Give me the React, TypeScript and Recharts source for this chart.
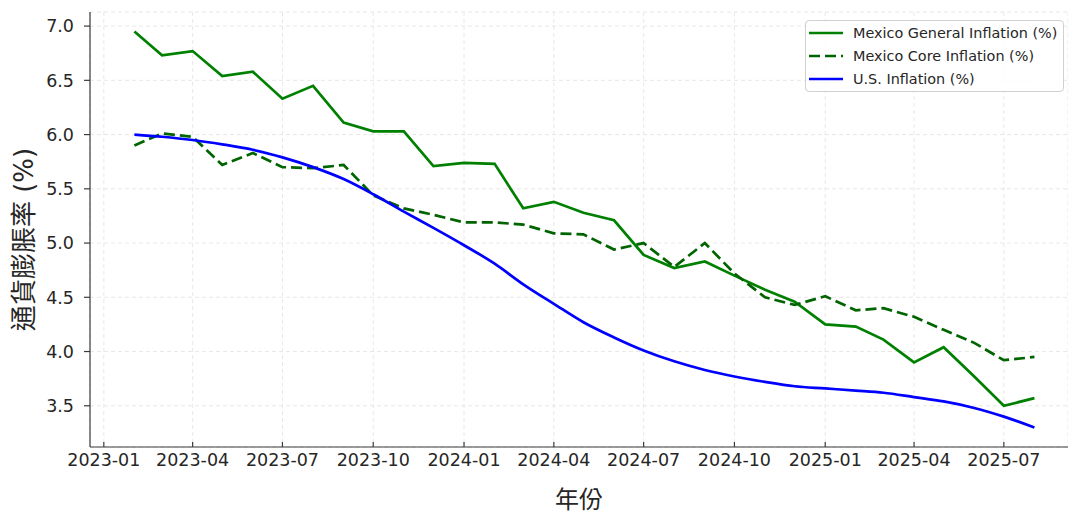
import { LineChart, Line, XAxis, YAxis, CartesianGrid, Text } from "recharts";

const MONTHS = [
  "2023-02", "2023-03", "2023-04", "2023-05", "2023-06", "2023-07", "2023-08", "2023-09", "2023-10", "2023-11", "2023-12",
  "2024-01", "2024-02", "2024-03", "2024-04", "2024-05", "2024-06", "2024-07", "2024-08", "2024-09", "2024-10", "2024-11", "2024-12",
  "2025-01", "2025-02", "2025-03", "2025-04", "2025-05", "2025-06", "2025-07", "2025-08",
];

const MX_GENERAL = [
  6.95, 6.73, 6.77, 6.54, 6.58, 6.33, 6.45, 6.11, 6.03, 6.03, 5.71,
  5.74, 5.73, 5.32, 5.38, 5.28, 5.21, 4.89, 4.77, 4.83, 4.7, 4.57, 4.46,
  4.25, 4.23, 4.11, 3.9, 4.04, 3.77, 3.5, 3.57,
];

const MX_CORE = [
  5.9, 6.01, 5.98, 5.72, 5.83, 5.7, 5.69, 5.72, 5.44, 5.32, 5.26,
  5.19, 5.19, 5.17, 5.09, 5.08, 4.94, 5.0, 4.78, 5.0, 4.72, 4.5, 4.43,
  4.51, 4.38, 4.4, 4.32, 4.2, 4.08, 3.92, 3.95,
];

const US = [
  6.0, 5.98, 5.95, 5.91, 5.86, 5.79, 5.7, 5.59, 5.45, 5.29, 5.14,
  4.98, 4.81, 4.62, 4.44, 4.27, 4.13, 4.01, 3.91, 3.83, 3.77, 3.72, 3.68,
  3.66, 3.64, 3.62, 3.58, 3.54, 3.48, 3.4, 3.3,
];

const X_TICKS = [
  "2023-01", "2023-04", "2023-07", "2023-10", "2024-01", "2024-04",
  "2024-07", "2024-10", "2025-01", "2025-04", "2025-07",
];
const Y_TICKS = [3.5, 4.0, 4.5, 5.0, 5.5, 6.0, 6.5, 7.0];

const SERIES = [
  { key: "general", name: "Mexico General Inflation (%)", color: "#008000", dash: undefined as string | undefined, curve: "linear" as const },
  { key: "core", name: "Mexico Core Inflation (%)", color: "#006400", dash: "11 5", curve: "linear" as const },
  { key: "us", name: "U.S. Inflation (%)", color: "#0000ff", dash: undefined as string | undefined, curve: "monotone" as const },
];

// "YYYY-MM" or "YYYY-MM-DD" -> days since epoch
const toDay = (s: string) => {
  const [y, m, d] = s.split("-").map(Number);
  return Date.UTC(y, m - 1, d || 1) / 86400000;
};
const fromDay = (v: number) => {
  const dt = new Date(v * 86400000);
  return `${dt.getUTCFullYear()}-${String(dt.getUTCMonth() + 1).padStart(2, "0")}`;
};

const data = MONTHS.map((m, i) => ({
  t: toDay(m),
  general: MX_GENERAL[i],
  core: MX_CORE[i],
  us: US[i],
}));

const FONT = "'DejaVu Sans', 'Noto Sans CJK TC', sans-serif";
const AXIS = "#3a3a3a";
const TEXT = "#262626";
const X_MARGIN = 7;

const XTick = ({ x, y, payload }: any) => (
  <g>
    <line x1={x} x2={x} y1={y - X_MARGIN} y2={y - X_MARGIN - 5} stroke={AXIS} strokeWidth={1.2} />
    <Text x={x} y={y} textAnchor="middle" verticalAnchor="start" fontSize={17.5} fill={TEXT} fontFamily={FONT}>
      {fromDay(payload.value)}
    </Text>
  </g>
);

export default function App() {
  return (
    <div style={{ position: "absolute", left: 0, top: 0, width: 1068, height: 513, overflow: "hidden", background: "#fff" }}>
      <LineChart width={1068} height={513} data={data} margin={{ top: 12, right: 0, bottom: 0, left: 0 }}>
        <CartesianGrid stroke="#e2e2e2" strokeDasharray="4 3" strokeWidth={0.8} />
        <XAxis
          dataKey="t"
          type="number"
          domain={[toDay("2022-12-18"), toDay("2025-09-04")]}
          allowDataOverflow
          ticks={X_TICKS.map(toDay)}
          tick={<XTick />}
          tickLine={false}
          tickSize={0}
          tickMargin={X_MARGIN}
          height={66}
          stroke={AXIS}
          strokeWidth={1.2}
          label={{ value: "年份", position: "insideBottom", offset: 5, fontSize: 24, fill: TEXT, fontFamily: FONT }}
        />
        <YAxis
          type="number"
          domain={[3.12, 7.13]}
          allowDataOverflow
          ticks={Y_TICKS}
          tickFormatter={(v) => v.toFixed(1)}
          width={90}
          tickSize={6}
          tickMargin={10}
          stroke={AXIS}
          strokeWidth={1.2}
          tick={{ fontSize: 17.5, fill: TEXT, fontFamily: FONT }}
          label={{
            value: "通貨膨脹率 (%)",
            angle: -90,
            position: "insideLeft",
            dx: 19,
            dy: 10,
            fontSize: 26,
            fill: TEXT,
            fontFamily: FONT,
            style: { textAnchor: "middle" },
          }}
        />
        {SERIES.map((s) => (
          <Line
            key={s.key}
            dataKey={s.key}
            name={s.name}
            type={s.curve}
            stroke={s.color}
            strokeWidth={2.7}
            strokeDasharray={s.dash}
            dot={false}
            isAnimationActive={false}
          />
        ))}
      </LineChart>
      <div
        style={{
          position: "absolute",
          left: 805,
          top: 20,
          width: 259,
          height: 72,
          border: "1px solid #d0d0d0",
          borderRadius: 4,
          background: "rgba(255,255,255,0.85)",
          fontFamily: FONT,
          fontSize: 14.4,
          color: TEXT,
          boxSizing: "border-box",
          paddingTop: 0,
        }}
      >
        {SERIES.map((s) => (
          <div key={s.key} style={{ display: "flex", alignItems: "center", height: 23 }}>
            <svg width={46} height={10} style={{ marginLeft: 1 }}>
              <line x1={2} x2={36} y1={5} y2={5} stroke={s.color} strokeWidth={2.7} strokeDasharray={s.dash ? "11 5" : undefined} />
            </svg>
            <span style={{ whiteSpace: "nowrap" }}>{s.name}</span>
          </div>
        ))}
      </div>
    </div>
  );
}
